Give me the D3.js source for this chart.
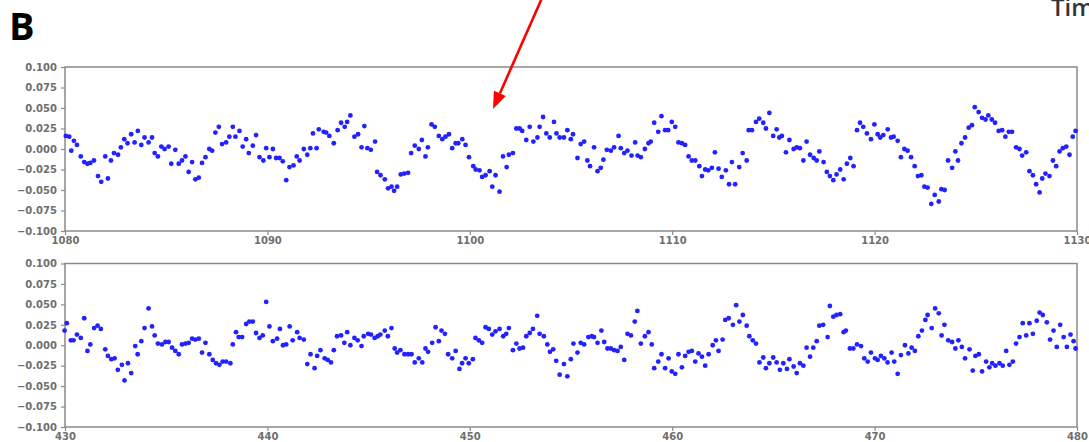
<!DOCTYPE html>
<html><head><meta charset="utf-8">
<script src="https://cdn.jsdelivr.net/npm/d3@7"></script>
<style>
html,body{margin:0;padding:0;background:#fff;overflow:hidden;}
svg{display:block;}
.tick text{font-family:"DejaVu Sans",sans-serif;font-size:10px;font-weight:bold;fill:#6e6e6e;}
</style></head><body>
<svg id="chart" width="1089" height="442"></svg>
<script>
// ---------- data ----------
const yTicks = [-0.1,-0.075,-0.05,-0.025,0,0.025,0.05,0.075,0.1];
const topXTicks = [1080,1090,1100,1110,1120,1130];
const bottomXTicks = [430,440,450,460,470,480];
const topDomain = [1080,1130];
const bottomDomain = [430,480];

const topTime = [
1080.04,1080.21,1080.31,1080.44,1080.59,1080.78,1080.95,1081.11,1081.25,1081.43,
1081.63,1081.79,1081.99,1082.12,1082.27,1082.42,1082.62,1082.76,1082.93,1083.09,
1083.27,1083.44,1083.60,1083.77,1083.93,1084.13,1084.30,1084.43,1084.59,1084.76,
1084.92,1085.12,1085.25,1085.45,1085.62,1085.78,1085.95,1086.11,1086.28,1086.44,
1086.61,1086.77,1086.94,1087.13,1087.27,1087.43,1087.60,1087.76,1087.96,1088.12,
1088.29,1088.42,1088.62,1088.78,1088.95,1089.08,1089.28,1089.44,1089.61,1089.80,
1089.94,1090.10,1090.27,1090.43,1090.60,1090.76,1090.93,1091.09,1091.29,1091.45,
1091.59,1091.80,1091.97,1092.12,1092.25,1092.43,1092.54,
1092.78,1092.90,1093.06,1093.28,1093.47,1093.64,1093.82,1093.94,1094.10,1094.30,
1094.48,1094.65,1094.79,1094.94,1095.11,1095.32,1095.42,1095.59,1095.80,1095.96,
1096.13,1096.26,1096.41,1096.59,1096.76,1096.95,1097.10,1097.28,1097.48,1097.63,
1097.81,1097.93,1098.11,1098.27,1098.47,1098.64,1098.80,1098.97,1099.13,1099.30,
1099.43,1099.63,1099.79,1099.96,1100.17,1100.29,1100.48,1100.61,1100.78,1100.98,
1101.11,1101.27,1101.47,1101.64,1101.82,1101.93,1102.13,1102.30,1102.46,1102.59,
1102.79,1102.96,1103.14,1103.34,1103.45,1103.62,1103.78,1103.95,1104.16,1104.28,
1104.44,1104.65,1104.82,
1104.99,1105.10,1105.32,1105.48,1105.65,1105.81,1105.94,1106.14,1106.31,1106.47,
1106.60,1106.77,1106.97,1107.13,1107.35,1107.46,1107.63,1107.79,1107.99,1108.17,
1108.29,1108.45,1108.65,1108.83,1108.94,1109.11,1109.31,1109.47,1109.65,1109.80,
1109.98,1110.15,1110.31,1110.48,1110.64,1110.81,1110.97,1111.14,1111.34,1111.47,
1111.63,1111.78,1111.96,1112.11,1112.29,1112.45,1112.65,1112.81,1112.95,1113.11,
1113.31,1113.48,1113.68,1113.78,1113.94,1114.14,1114.30,1114.50,1114.63,1114.80,
1114.99,1115.16,1115.29,1115.42,1115.62,1115.79,1116.00,1116.15,1116.31,1116.48,
1116.64,1116.81,1116.99,1117.14,1117.27,
1117.48,1117.64,1117.79,1117.96,1118.12,1118.30,1118.47,1118.63,1118.80,1118.96,
1119.13,1119.28,1119.44,1119.62,1119.82,1119.99,1120.15,1120.28,1120.43,1120.65,
1120.81,1120.94,1121.14,1121.30,1121.47,1121.63,1121.80,1121.98,1122.14,1122.31,
1122.46,1122.62,1122.80,1122.97,1123.17,1123.30,1123.46,1123.63,1123.83,1123.99,
1124.12,1124.29,1124.47,1124.65,1124.81,1124.95,1125.14,1125.31,1125.48,1125.62,
1125.79,1125.95,1126.13,1126.30,1126.46,1126.63,1126.79,1126.99,1127.16,1127.29,
1127.49,1127.65,1127.82,1127.98,1128.15,1128.28,1128.44,1128.64,1128.81,1128.97,
1129.14,1129.30,1129.47,1129.63,1129.79,1129.93
];
const topValue = [
.016,.015,-.002,.010,.005,-.009,-.016,-.018,-.017,-.014,
-.033,-.040,-.009,-.036,-.014,-.005,-.007,.002,.012,.007,
.018,.008,.022,.005,.014,.008,.014,-.005,-.009,.003,
.000,.003,-.018,-.001,-.018,-.014,-.009,-.028,-.016,-.037,
-.035,-.017,-.010,.000,-.002,.020,.027,.006,.008,.015,
.027,.015,.022,.003,.012,-.005,.004,.017,-.010,-.014,
.001,-.010,.000,-.011,-.011,-.015,-.038,-.022,-.020,-.009,
-.014,.000,-.007,.001,.019,.001,.024,
.021,.020,.016,.007,.023,.032,.027,.033,.041,.015,
.018,.002,.028,.001,-.001,.009,-.028,-.032,-.037,-.048,
-.046,-.051,-.046,-.031,-.030,-.029,-.005,.004,.000,.011,
-.009,.002,.030,.027,.016,.012,.015,.018,.001,.007,
.007,.012,.005,-.010,-.021,-.025,-.026,-.034,-.032,-.027,
-.046,-.032,-.052,-.009,-.022,-.007,-.005,.025,.025,.022,
.011,.027,.009,.014,.027,.039,.019,.014,.033,.019,
.014,.014,.023,
.012,.018,-.011,.006,.009,-.014,-.021,.002,-.027,-.023,
-.013,-.001,-.002,.002,.016,.001,-.005,-.002,-.008,.008,
-.008,-.010,.000,.007,.009,.032,.021,.040,.023,.023,
.033,.027,.008,.007,.005,-.009,-.014,-.014,-.021,-.033,
-.025,-.026,-.023,-.004,-.024,-.034,-.026,-.043,-.016,-.043,
-.022,-.005,-.014,.023,.023,.033,.037,.032,.025,.044,
.016,.024,.014,.016,-.004,.011,.000,.002,.001,-.014,
.009,-.007,-.011,-.014,-.003,
-.016,-.028,-.033,-.038,-.031,-.025,-.037,-.018,-.011,-.021,
.023,.032,.027,.019,.012,.030,.018,.014,.017,.024,
.014,.015,.010,-.010,.000,-.002,-.010,-.021,-.033,-.032,
-.046,-.047,-.067,-.056,-.064,-.049,-.050,-.014,-.023,-.003,
-.014,.007,.014,.026,.029,.051,.045,.038,.036,.041,
.036,.032,.022,.023,.015,.021,.021,.002,.000,-.008,
-.004,-.027,-.032,-.043,-.053,-.036,-.030,-.033,-.014,-.021,
-.003,.001,.003,-.007,.015,.022
];

const bottomTime = [
429.98,430.09,430.29,430.42,430.59,430.78,430.95,431.11,431.25,431.44,
431.61,431.77,431.99,432.12,432.29,432.45,432.61,432.81,432.94,433.11,
433.27,433.47,433.59,433.77,433.93,434.13,434.30,434.43,434.59,434.79,
434.96,435.12,435.29,435.45,435.62,435.78,435.95,436.11,436.28,436.44,
436.61,436.77,436.94,437.13,437.30,437.46,437.63,437.79,437.96,438.17,
438.29,438.45,438.58,438.75,438.95,439.11,439.28,439.44,439.61,439.77,
439.94,440.10,440.27,440.48,440.62,440.77,440.93,441.10,441.25,441.47,
441.59,441.80,441.97,442.13,442.33,442.46,
442.62,442.83,442.98,443.14,443.28,443.44,443.64,443.80,443.94,444.10,
444.30,444.46,444.65,444.76,444.98,445.12,445.30,445.45,445.58,445.80,
445.95,446.13,446.29,446.41,446.57,446.77,446.95,447.12,447.28,447.48,
447.65,447.81,447.94,448.14,448.31,448.47,448.60,448.77,448.93,449.13,
449.30,449.49,449.62,449.79,449.95,450.15,450.28,450.45,450.61,450.78,
450.94,451.11,451.27,451.47,451.65,451.80,451.93,452.13,452.30,452.46,
452.63,452.79,452.96,453.12,453.33,453.45,453.66,453.83,453.96,454.12,
454.27,454.44,454.65,454.82,454.99,
455.12,455.32,455.48,455.65,455.86,456.03,456.14,456.31,456.50,456.64,
456.80,456.97,457.13,457.30,457.46,457.63,457.79,457.96,458.15,458.28,
458.45,458.65,458.83,458.99,459.11,459.31,459.47,459.65,459.82,459.98,
460.15,460.31,460.48,460.64,460.81,460.97,461.14,461.30,461.47,461.63,
461.80,462.00,462.16,462.29,462.49,462.62,462.79,463.00,463.16,463.32,
463.49,463.68,463.81,463.98,464.14,464.31,464.50,464.63,464.80,464.99,
465.16,465.32,465.49,465.67,465.79,466.00,466.15,466.31,466.48,466.64,
466.81,466.97,467.14,467.27,
467.46,467.68,467.79,467.96,468.12,468.30,468.47,468.58,468.78,468.95,
469.13,469.33,469.49,469.66,469.82,470.02,470.15,470.31,470.48,470.64,
470.84,470.97,471.14,471.30,471.50,471.67,471.83,471.99,472.16,472.34,
472.51,472.62,472.82,472.99,473.17,473.31,473.45,473.64,473.83,473.99,
474.14,474.31,474.47,474.69,474.85,474.98,475.15,475.31,475.51,475.67,
475.81,475.97,476.17,476.33,476.50,476.66,476.83,476.99,477.16,477.32,
477.49,477.65,477.82,478.01,478.15,478.31,478.51,478.67,478.84,479.00,
479.17,479.34,479.50,479.68,479.83,479.93
];
const bottomValue = [
.018,.027,.006,.006,.013,.009,.033,-.007,.001,.021,
.024,.020,-.005,-.013,-.017,-.016,-.030,-.024,-.043,-.022,
-.034,-.001,-.011,.005,.021,.045,.023,.012,.002,.001,
.004,.004,-.003,-.007,-.011,.001,.002,.003,.008,.007,
.008,-.009,.003,-.011,-.018,-.022,-.024,-.020,-.020,-.022,
.001,.016,.010,.010,.026,.029,.029,.015,.009,.012,
.053,.023,.005,.008,.020,.000,.001,.023,.006,.016,
.009,.007,-.023,-.011,-.028,-.013,
-.006,-.016,-.018,-.021,-.006,.011,.012,.003,.016,.000,
.009,.006,-.001,.011,.014,.013,.009,.011,.013,.018,
.011,.021,-.004,-.009,-.006,-.011,-.011,-.011,-.021,-.016,
-.021,-.004,-.008,.003,.022,.005,.018,.014,-.011,-.016,
-.007,-.029,-.022,-.016,-.022,-.017,.009,.006,.003,.022,
.020,.013,.017,.020,.011,.014,.021,-.006,.002,-.004,
-.003,.011,.015,.020,.036,.014,.011,.001,-.008,-.005,
-.019,-.036,-.023,-.038,-.017,
.002,-.009,.003,.001,.010,.011,.010,.003,.018,.004,
-.004,-.004,-.006,-.007,-.002,-.018,.014,.012,.029,.042,
.002,.011,.016,.001,-.028,-.020,-.011,-.028,-.016,-.032,
-.035,-.011,-.027,-.013,-.008,-.007,-.020,-.010,-.014,-.025,
-.011,.000,.006,-.007,.007,.031,.033,.025,.049,.029,
.037,.024,.011,.006,.002,-.021,-.015,-.028,-.022,-.015,
-.021,-.030,-.022,-.029,-.017,-.026,-.034,-.022,-.025,-.003,
-.014,-.003,.005,.024,
.025,.010,.048,.035,.037,.038,.016,.018,-.004,-.004,
.001,-.001,-.016,-.020,-.009,-.016,-.018,-.013,-.016,-.021,
-.009,-.020,-.035,-.012,.000,-.010,-.003,-.007,.011,.018,
.031,.037,.021,.045,.039,.012,.025,.006,.004,-.004,
.006,-.002,-.016,-.005,-.031,-.013,-.011,-.032,-.020,-.027,
-.022,-.025,-.022,-.025,-.007,-.024,-.020,.002,.010,.027,
.012,.027,.014,.030,.040,.037,.028,.007,.018,-.002,
.025,.010,-.002,.013,.005,-.004
];

// ---------- drawing ----------
const svg = d3.select("#chart");
const left = 65, right = 1077;
const axisColor = "#8a8a8a";
const dotColor = "#2222ff";

function panel(times, values, domain, xTicks, top, bottom) {
  const x = d3.scaleLinear().domain(domain).range([left, right]);
  const y = d3.scaleLinear().domain([-0.1, 0.1]).range([bottom, top]);
  const g = svg.append("g");

  const yAxis = g.append("g").attr("transform", `translate(${left},0)`)
    .call(d3.axisLeft(y).tickValues(yTicks).tickFormat(d3.format(".3f")).tickSize(4).tickPadding(4));
  const xAxis = g.append("g").attr("transform", `translate(0,${bottom})`)
    .call(d3.axisBottom(x).tickValues(xTicks).tickFormat(d3.format("d")).tickSize(4).tickPadding(2));
  [yAxis, xAxis].forEach(a => {
    a.select(".domain").remove();
    a.selectAll(".tick line").attr("stroke", axisColor).attr("stroke-width", 1.2);
  });

  g.append("rect").attr("x", left).attr("y", top)
    .attr("width", right - left).attr("height", bottom - top)
    .attr("fill", "none").attr("stroke", axisColor).attr("stroke-width", 1.5);

  g.append("g").selectAll("circle").data(times.map((t, i) => [t, values[i]]))
    .join("circle")
    .attr("cx", d => x(d[0])).attr("cy", d => y(d[1]))
    .attr("r", 2.4).attr("fill", dotColor);
}

panel(topTime, topValue, topDomain, topXTicks, 67, 231);
panel(bottomTime, bottomValue, bottomDomain, bottomXTicks, 263.5, 427);

// panel letter
svg.append("text").attr("x", 9).attr("y", 40)
  .attr("font-family", "'Open Sans', sans-serif").attr("font-weight", "bold")
  .attr("font-size", 38).attr("fill", "#000").text("B");

// cropped title at top right (cut off by the page edge, as in the reference)
svg.append("text").attr("x", 1051).attr("y", 16)
  .attr("font-family", "'Open Sans', sans-serif").attr("font-weight", 600)
  .attr("font-size", 24).attr("fill", "#333").text("Time");

// red arrow
const tail = [542, -2], tip = [493, 109];
const dx = tip[0] - tail[0], dy = tip[1] - tail[1];
const len = Math.hypot(dx, dy), ux = dx / len, uy = dy / len;
const headLen = 17, headHalf = 6.5;
const bx = tip[0] - ux * headLen, by = tip[1] - uy * headLen;
svg.append("line").attr("x1", tail[0]).attr("y1", tail[1]).attr("x2", bx).attr("y2", by)
  .attr("stroke", "#ff0000").attr("stroke-width", 2.6);
svg.append("polygon")
  .attr("points", [[tip[0], tip[1]], [bx - uy * headHalf, by + ux * headHalf], [bx + uy * headHalf, by - ux * headHalf]].map(p => p.join(",")).join(" "))
  .attr("fill", "#ff0000");
</script>
</body></html>
